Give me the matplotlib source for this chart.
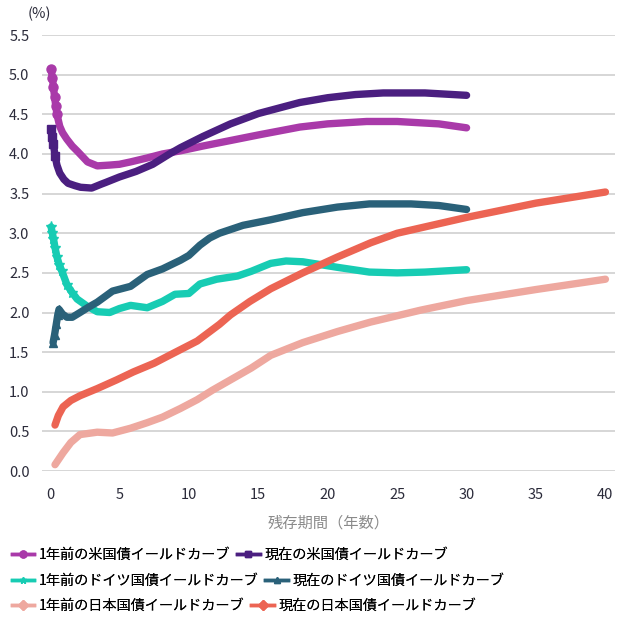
import matplotlib
matplotlib.use('Agg')
import matplotlib.pyplot as plt
from matplotlib.lines import Line2D

plt.rcParams['font.family'] = ['Noto Sans CJK JP', 'DejaVu Sans']

# 1年前の米国債
us_prev_t = [0.08, 0.17, 0.25, 0.33, 0.42, 0.5, 0.7, 0.9, 1.2, 1.6, 2.0, 2.7, 3.4, 4.3, 5.0, 5.8, 7.0, 8.1,
             9.4, 11, 13, 15, 18, 20, 22.8, 25, 28, 30]
us_prev_v = [5.07, 4.96, 4.84, 4.72, 4.60, 4.50, 4.35, 4.27, 4.19, 4.10, 4.03, 3.90, 3.85, 3.86, 3.87, 3.90,
             3.95, 4.00, 4.04, 4.10, 4.17, 4.24, 4.34, 4.38, 4.41, 4.41, 4.38, 4.33]
# 現在の米国債
us_now_t = [0.08, 0.17, 0.25, 0.36, 0.5, 0.7, 1.0, 1.3, 1.8, 2.2, 3.0, 3.7, 4.0, 5.0, 6.2, 7.4, 8.6, 9.4,
            11, 13, 15, 18, 20, 22, 24, 27, 30]
us_now_v = [4.32, 4.22, 4.12, 3.98, 3.86, 3.76, 3.68, 3.63, 3.60, 3.58, 3.57, 3.62, 3.64, 3.71, 3.78, 3.87,
            4.00, 4.08, 4.22, 4.38, 4.51, 4.65, 4.71, 4.75, 4.77, 4.77, 4.74]
# 1年前のドイツ国債
de_prev_t = [0.08, 0.17, 0.25, 0.36, 0.5, 0.67, 0.86, 1.22, 1.6, 1.95, 2.67, 3.4, 4.3, 5.0, 5.8, 7.0, 8.1,
             9.0, 10, 10.8, 12, 13.5, 14.5, 15.9, 17, 18.2, 20.7, 23, 25, 27, 30]
de_prev_v = [3.08, 3.00, 2.93, 2.82, 2.70, 2.60, 2.52, 2.35, 2.25, 2.17, 2.08, 2.01, 2.00, 2.05, 2.09, 2.06,
             2.14, 2.23, 2.24, 2.36, 2.42, 2.46, 2.52, 2.62, 2.65, 2.64, 2.57, 2.51, 2.50, 2.51, 2.54]
# 現在のドイツ国債
de_now_t = [0.22, 0.33, 0.45, 0.56, 0.65, 0.9, 1.22, 1.6, 2.16, 2.8, 3.4, 4.5, 5.8, 7.0, 8.1, 9.4, 10.0,
            10.8, 11.5, 12.2, 13.9, 15.9, 18.2, 20.7, 23, 26, 28, 30]
de_now_v = [1.62, 1.72, 1.85, 1.97, 2.04, 1.98, 1.94, 1.94, 2.00, 2.07, 2.13, 2.27, 2.33, 2.48, 2.55, 2.66,
            2.72, 2.85, 2.94, 3.00, 3.10, 3.17, 3.26, 3.33, 3.37, 3.37, 3.35, 3.30]
# 1年前の日本国債
jp_prev_t = [0.36, 0.94, 1.5, 2.16, 3.4, 4.5, 5.8, 7.0, 8.1, 9.4, 10.6, 11.7, 13.0, 14.5, 15.9, 18.2, 20.7,
             23.1, 26.7, 30, 35, 40]
jp_prev_v = [0.08, 0.23, 0.36, 0.46, 0.49, 0.48, 0.54, 0.61, 0.68, 0.79, 0.90, 1.02, 1.15, 1.30, 1.46, 1.62,
             1.76, 1.88, 2.03, 2.15, 2.29, 2.42]
# 現在の日本国債
jp_now_t = [0.36, 0.6, 0.94, 1.5, 2.16, 3.4, 4.8, 6.0, 7.5, 8.6, 10.6, 12.2, 13.0, 14.4, 15.9, 18.2, 20.7,
            23.1, 25, 27, 30, 35, 40]
jp_now_v = [0.58, 0.70, 0.81, 0.89, 0.95, 1.04, 1.15, 1.25, 1.36, 1.46, 1.64, 1.85, 1.97, 2.14, 2.30, 2.50,
            2.70, 2.88, 3.00, 3.08, 3.20, 3.38, 3.52]

labels = ['1年前の米国債イールドカーブ', '現在の米国債イールドカーブ',
          '1年前のドイツ国債イールドカーブ', '現在のドイツ国債イールドカーブ',
          '1年前の日本国債イールドカーブ', '現在の日本国債イールドカーブ']
y_ticks = [0.0, 0.5, 1.0, 1.5, 2.0, 2.5, 3.0, 3.5, 4.0, 4.5, 5.0, 5.5]
x_ticks = [0, 5, 10, 15, 20, 25, 30, 35, 40]

# (t, v, colour, marker, marker size, markers shown up to this maturity)
series = [
    (us_prev_t, us_prev_v, '#a93aa9', 'o', 6.5, 0.5),
    (us_now_t, us_now_v, '#4b1f80', 's', 6.0, 0.36),
    (de_prev_t, de_prev_v, '#17ccb3', '*', 8.0, 1.6),
    (de_now_t, de_now_v, '#2a6179', '^', 6.0, 0.65),
    (jp_prev_t, jp_prev_v, '#eea89f', 'D', 4.0, -1),
    (jp_now_t, jp_now_v, '#ec6453', 'D', 4.0, -1),
]

fig = plt.figure(figsize=(6.17, 6.21), dpi=100)
ax = fig.add_axes([0.068, 0.2415, 0.929, 0.702])

for t, v, c, m, ms, tmax in series:
    idx = [i for i, x in enumerate(t) if x <= tmax]
    ax.plot(t, v, color=c, lw=5.3, marker=m, ms=ms, mec=c, mfc=c, markevery=idx,
            solid_capstyle='round', solid_joinstyle='round', clip_on=False, zorder=3)

ax.set_xlim(-0.58, 40.7)
ax.set_ylim(0, 5.5)
ax.set_yticks(y_ticks)
ax.set_yticklabels([f'{y:.1f}' for y in y_ticks])
ax.set_xticks(x_ticks)
ax.grid(axis='y', color='#d6d6d6', lw=1.4)
ax.set_axisbelow(True)
for s in ax.spines.values():
    s.set_visible(False)
ax.tick_params(axis='both', length=0, labelsize=10.5, labelcolor='#2b2b3a')
ax.tick_params(axis='y', pad=9)
ax.tick_params(axis='x', pad=12)
ax.set_xlabel('残存期間（年数）', color='#8a8a8a', fontsize=11, labelpad=9)
fig.text(0.045, 0.978, '(%)', fontsize=10.5, color='#2b2b3a', va='center', ha='left')

handles = [Line2D([0], [0], color=c, lw=2.5, marker=m, ms=5, mec=c, mfc=c)
           for _, _, c, m, _, _ in series]

# legend rows flow left to right, like the source chart
row_y = [0.106, 0.065, 0.024]
for r, y in enumerate(row_y):
    leg = fig.legend(handles[2 * r:2 * r + 2], labels[2 * r:2 * r + 2],
                     loc='center left', bbox_to_anchor=(0.012, y), ncol=2, frameon=False,
                     fontsize=10.2, handlelength=1.6, handletextpad=0.3, columnspacing=0.5,
                     borderaxespad=0.0, borderpad=0.3)
    fig.add_artist(leg)

fig.savefig('out.png', dpi=100)
